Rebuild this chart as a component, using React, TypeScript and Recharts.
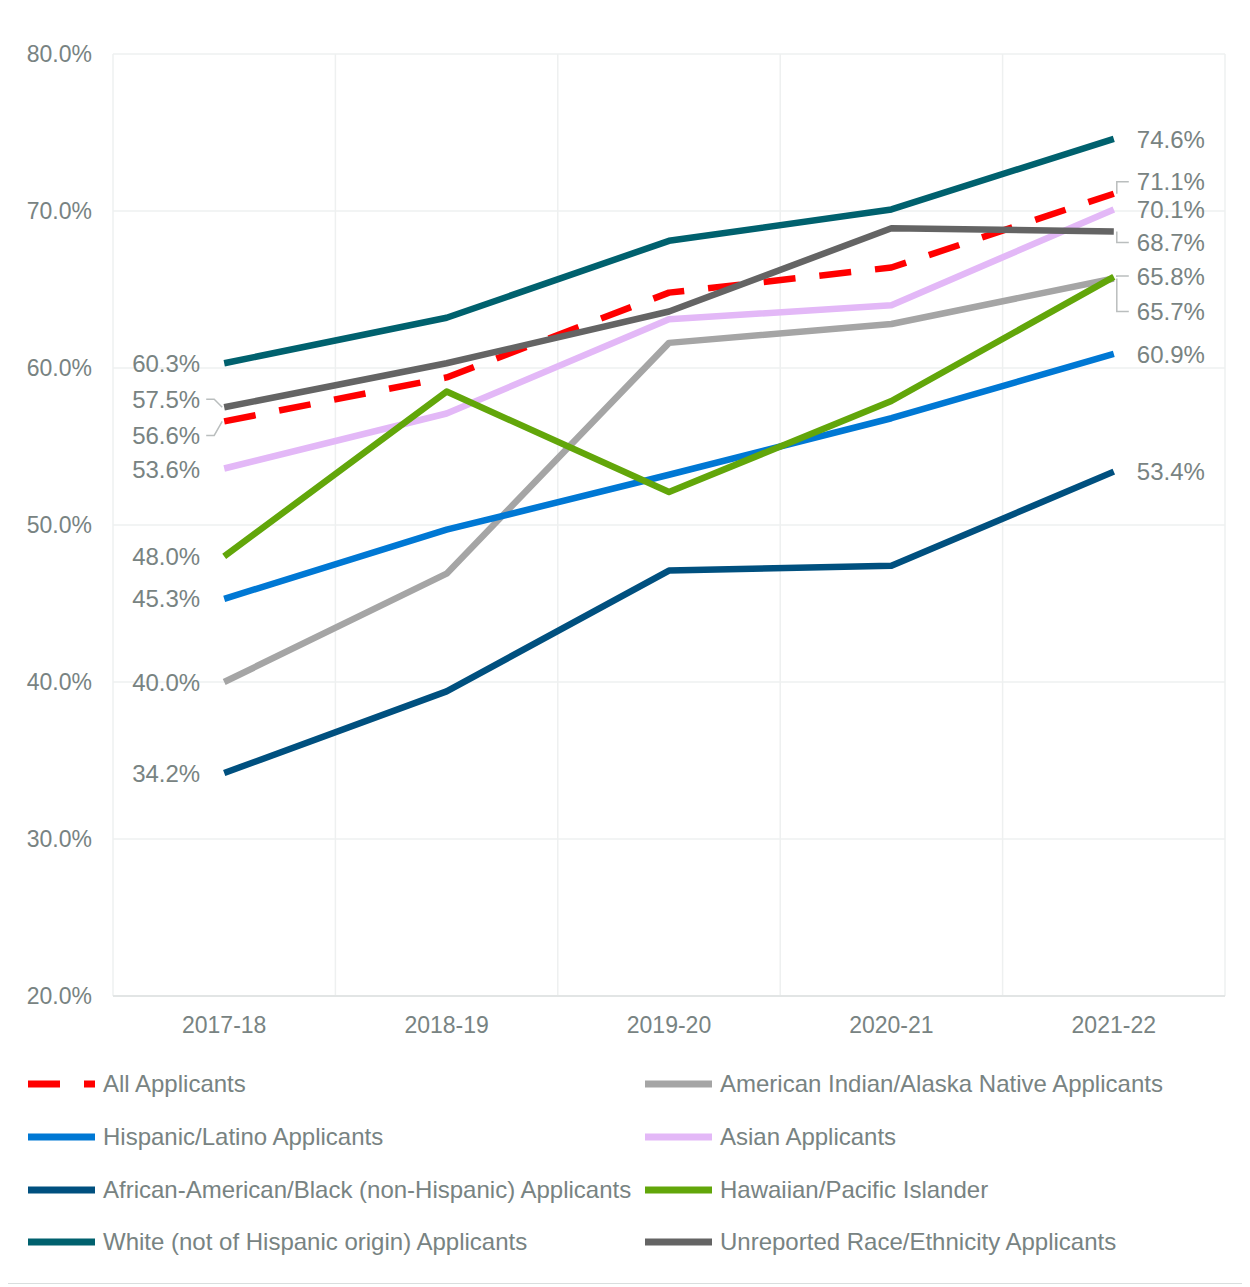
import React from 'react';
import { LineChart, Line, XAxis, YAxis, CartesianGrid } from 'recharts';

const years = ['2017-18', '2018-19', '2019-20', '2020-21', '2021-22'];
const yTicks = [20, 30, 40, 50, 60, 70, 80];

const allApplicants = [56.6, 59.4, 64.8, 66.4, 71.1];
const americanIndian = [40.0, 46.9, 61.6, 62.8, 65.7];
const hispanic = [45.3, 49.7, 53.2, 56.8, 60.9];
const asian = [53.6, 57.1, 63.1, 64.0, 70.1];
const black = [34.2, 39.4, 47.1, 47.4, 53.4];
const hawaiian = [48.0, 58.5, 52.1, 57.9, 65.8];
const white = [60.3, 63.2, 68.1, 70.1, 74.6];
const unreported = [57.5, 60.3, 63.6, 68.9, 68.7];

const FONT = '"Liberation Sans", Arial, sans-serif';
const TEXT = '#788382';

// drawing / legend order
const series = [
  { key: 'all', name: 'All Applicants', values: allApplicants, color: '#ff0000', dash: '32 24', leftDy: 14, rightDy: -12, leftLeader: true, rightLeader: true },
  { key: 'amind', name: 'American Indian/Alaska Native Applicants', values: americanIndian, color: '#a5a5a5', leftDy: 0, rightDy: 33, rightLeader: true },
  { key: 'hisp', name: 'Hispanic/Latino Applicants', values: hispanic, color: '#0078d4', leftDy: 0, rightDy: 0 },
  { key: 'asian', name: 'Asian Applicants', values: asian, color: '#e3b8f7', leftDy: 1, rightDy: 0 },
  { key: 'black', name: 'African-American/Black (non-Hispanic) Applicants', values: black, color: '#00507f', leftDy: 0, rightDy: 0 },
  { key: 'haw', name: 'Hawaiian/Pacific Islander', values: hawaiian, color: '#62a60a', leftDy: 0, rightDy: -1, rightLeader: true },
  { key: 'white', name: 'White (not of Hispanic origin) Applicants', values: white, color: '#00616e', leftDy: 0, rightDy: 1 },
  { key: 'unrep', name: 'Unreported Race/Ethnicity Applicants', values: unreported, color: '#646464', leftDy: -8, rightDy: 11, leftLeader: true, rightLeader: true },
];

const rows = years.map((year, i) => {
  const row: Record<string, any> = { x: i + 0.5, year };
  series.forEach((s) => (row[s.key] = s.values[i]));
  return row;
});

const makeLabel = (s: any) => (props: any) => {
  const { x, y, index, value } = props;
  if (index !== 0 && index !== years.length - 1) return null;
  const left = index === 0;
  const dy = left ? s.leftDy : s.rightDy;
  const ly = y + dy;
  const leader = left ? s.leftLeader : s.rightLeader;
  return (
    <g key={`${s.key}-${index}`}>
      {leader && (
        <path
          d={left ? `M${x - 18},${ly} H${x - 10} L${x - 2},${y}` : `M${x + 15},${ly} H${x + 3} V${y}`}
          fill="none"
          stroke="#babebe"
          strokeWidth={1.5}
        />
      )}
      <text
        x={left ? x - 24 : x + 23}
        y={ly}
        dy="0.36em"
        textAnchor={left ? 'end' : 'start'}
        fill={TEXT}
        fontSize={24}
        fontFamily={FONT}
      >
        {`${Number(value).toFixed(1)}%`}
      </text>
    </g>
  );
};

const gridX = (props: any) => {
  const { offset } = props;
  return [0, 1, 2, 3, 4, 5].map((k) => offset.left + (k * offset.width) / years.length);
};

const LegendItem = ({ s }: { s: any }) => (
  <div style={{ display: 'flex', alignItems: 'center', height: 52.7 }}>
    <svg width={67} height={8} style={{ marginRight: 8 }}>
      <line x1={0} y1={4} x2={67} y2={4} stroke={s.color} strokeWidth={7} strokeDasharray={s.dash} />
    </svg>
    <span style={{ fontSize: 24, color: TEXT, fontFamily: FONT, whiteSpace: 'nowrap' }}>{s.name}</span>
  </div>
);

export default function App() {
  return (
    <div
      style={{
        position: 'relative',
        width: 1236,
        height: 1276,
        border: '1px solid #d9dede',
        marginLeft: -1,
        marginTop: -2,
        background: '#fff',
        fontFamily: FONT,
      }}
    >
      <LineChart width={1236} height={1050} data={rows} margin={{ top: 47, right: 19, bottom: 0, left: 0 }}>
        <CartesianGrid stroke="#eef0f0" strokeWidth={1.5} verticalCoordinatesGenerator={gridX} />
        <XAxis
          dataKey="x"
          type="number"
          domain={[0, years.length]}
          ticks={rows.map((r) => r.x)}
          tickFormatter={(v: number) => years[Math.floor(v)]}
          height={61}
          tickLine={false}
          tickSize={6}
          tickMargin={15}
          axisLine={{ stroke: '#e2e5e5', strokeWidth: 2 }}
          tick={{ fill: TEXT, fontSize: 23, fontFamily: FONT }}
        />
        <YAxis
          type="number"
          domain={[20, 80]}
          ticks={yTicks}
          width={105}
          tickLine={false}
          axisLine={false}
          tickSize={6}
          tickMargin={15}
          tickFormatter={(v: number) => `${v.toFixed(1)}%`}
          tick={{ fill: TEXT, fontSize: 23, fontFamily: FONT }}
        />
        {series.map((s) => (
          <Line
            key={s.key}
            dataKey={s.key}
            name={s.name}
            type="linear"
            stroke={s.color}
            strokeWidth={6.5}
            strokeDasharray={s.dash}
            strokeLinejoin="round"
            dot={false}
            activeDot={false}
            isAnimationActive={false}
            label={makeLabel(s)}
          />
        ))}
      </LineChart>
      <div style={{ position: 'absolute', top: 1051, left: 20, display: 'grid', gridTemplateColumns: '617px 600px' }}>
        {series.map((s) => (
          <LegendItem key={s.key} s={s} />
        ))}
      </div>
    </div>
  );
}
